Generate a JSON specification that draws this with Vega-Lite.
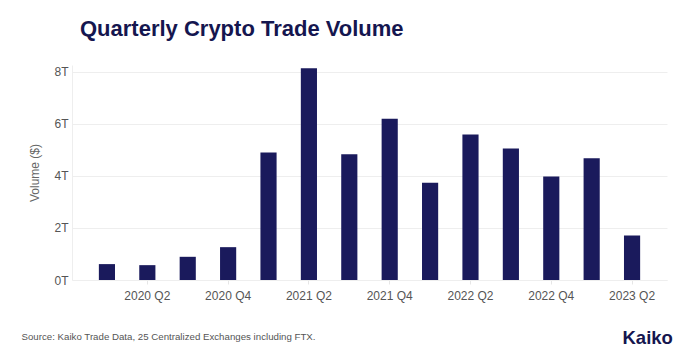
{
  "$schema": "https://vega.github.io/schema/vega-lite/v6.json",
  "width": 595,
  "height": 215,
  "autosize": "none",
  "padding": {"left": 72, "top": 65, "right": 18, "bottom": 70},
  "background": "white",
  "config": {
    "font": "Liberation Sans",
    "view": {"stroke": null}
  },
  "title": {
    "text": "Quarterly Crypto Trade Volume",
    "anchor": "start",
    "frame": "group",
    "dx": 8,
    "offset": 24,
    "fontSize": 22,
    "fontWeight": "bold",
    "color": "#15164f",
    "font": "Liberation Sans"
  },
  "data": {
    "values": [
      {"quarter": "2020 Q1", "volume": 0.61},
      {"quarter": "2020 Q2", "volume": 0.57},
      {"quarter": "2020 Q3", "volume": 0.89},
      {"quarter": "2020 Q4", "volume": 1.26},
      {"quarter": "2021 Q1", "volume": 4.89},
      {"quarter": "2021 Q2", "volume": 8.13},
      {"quarter": "2021 Q3", "volume": 4.83},
      {"quarter": "2021 Q4", "volume": 6.19},
      {"quarter": "2022 Q1", "volume": 3.73},
      {"quarter": "2022 Q2", "volume": 5.58},
      {"quarter": "2022 Q3", "volume": 5.05},
      {"quarter": "2022 Q4", "volume": 3.97},
      {"quarter": "2023 Q1", "volume": 4.67},
      {"quarter": "2023 Q2", "volume": 1.71}
    ]
  },
  "layer": [
    {
      "mark": {"type": "bar", "color": "#1a1a5c"},
      "encoding": {
        "x": {
          "field": "quarter",
          "type": "ordinal",
          "sort": null,
          "scale": {"paddingInner": 0.6, "paddingOuter": 0.665},
          "axis": {
            "values": ["2020 Q2", "2020 Q4", "2021 Q2", "2021 Q4", "2022 Q2", "2022 Q4", "2023 Q2"],
            "labelAngle": 0,
            "labelFontSize": 12,
            "labelColor": "#555555",
            "labelPadding": 6,
            "domainColor": "#eeeeee",
            "tickColor": "#e6e6e6",
            "tickSize": 4,
            "title": "Source: Kaiko Trade Data, 25 Centralized Exchanges including FTX.",
            "titleX": -51,
            "titleY": 56,
            "titleAlign": "left",
            "titleBaseline": "middle",
            "titleAnchor": null,
            "titleFontSize": 9.7,
            "titleFontWeight": "normal",
            "titleColor": "#555555"
          }
        },
        "y": {
          "field": "volume",
          "type": "quantitative",
          "scale": {"domain": [0, 8.25], "nice": false},
          "axis": {
            "values": [0, 2, 4, 6, 8],
            "labelExpr": "datum.value + 'T'",
            "labelFontSize": 12,
            "labelColor": "#555555",
            "labelPadding": 4,
            "ticks": false,
            "domain": true,
            "domainColor": "#eeeeee",
            "gridColor": "#eeeeee",
            "title": "Volume ($)",
            "titleFontSize": 12,
            "titleFontWeight": "normal",
            "titleColor": "#666666",
            "titlePadding": 12
          }
        }
      }
    },
    {
      "mark": {"type": "rule", "strokeOpacity": 0},
      "encoding": {
        "y": {
          "field": "volume",
          "type": "quantitative",
          "axis": {
            "orient": "right",
            "labels": false,
            "ticks": false,
            "domain": false,
            "grid": false,
            "title": "Kaiko",
            "titleAngle": 0,
            "titleX": -45,
            "titleY": 272,
            "titleAlign": "left",
            "titleBaseline": "middle",
            "titleFontSize": 18.5,
            "titleFontWeight": "bold",
            "titleColor": "#15164f"
          }
        }
      }
    }
  ],
  "resolve": {"scale": {"y": "shared"}, "axis": {"y": "independent"}}
}
